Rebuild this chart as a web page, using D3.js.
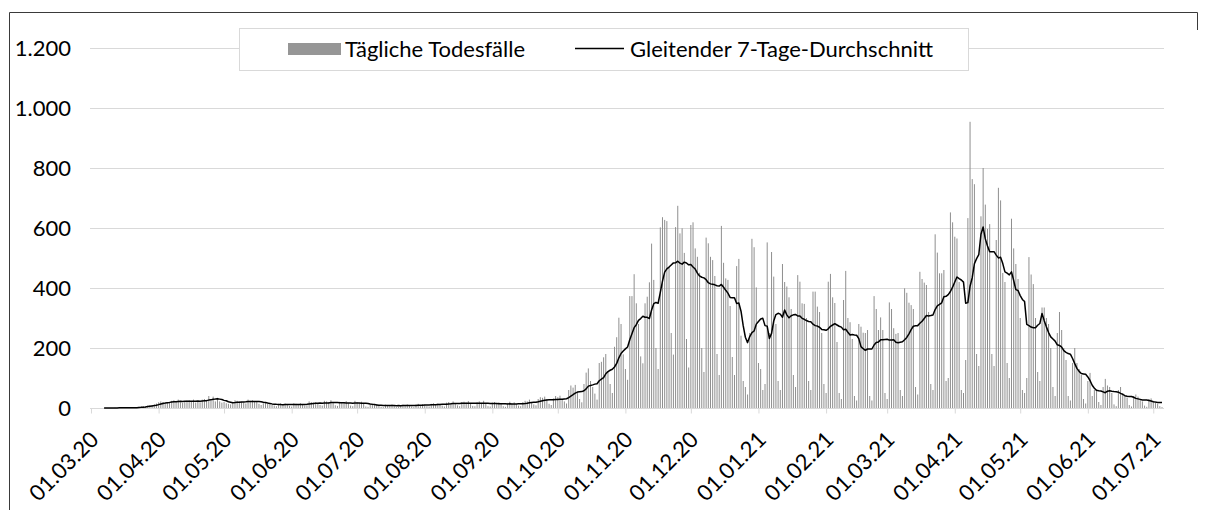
<!DOCTYPE html>
<html>
<head>
<meta charset="utf-8">
<script src="https://cdn.jsdelivr.net/npm/d3@7/dist/d3.min.js"></script>
<style>
  html, body { margin: 0; padding: 0; background: #fff; }
  svg { display: block; font-family: Lato, "Open Sans", sans-serif; }
</style>
</head>
<body>
<svg id="chart" width="1205" height="510"></svg>
<script>
// ---------- DATA ----------
const startDate = "2020-03-01";
// Daily deaths, one value per day starting 01.03.2020 (weeks Sun..Sat)
const dailyDeaths = [
  0,0,0,0,0,0,0,
  0,0,0,0,1,1,1,
  0,0,2,1,1,0,1,
  3,4,5,6,6,8,9,
  10,12,15,19,22,20,17,
  20,18,24,26,21,28,19,
  17,20,25,26,22,28,18,
  22,19,28,30,27,40,24,
  38,22,34,22,18,20,16,
  14,12,20,26,24,22,20,
  18,15,28,24,26,22,20,
  14,10,16,20,14,12,10,
  8,6,14,16,12,15,11,
  7,5,16,14,13,16,12,
  8,9,22,20,18,19,16,
  10,8,24,22,20,26,18,
  9,7,21,19,20,23,16,
  8,6,24,20,17,21,16,
  5,4,12,10,11,13,8,
  4,3,11,9,10,12,7,
  3,4,10,11,9,12,8,
  5,3,12,14,10,13,11,
  6,5,14,16,13,15,14,
  8,5,18,20,17,22,15,
  9,6,20,21,18,23,15,
  7,6,19,22,17,24,14,
  6,5,18,20,16,19,14,
  6,4,17,21,15,19,13,
  8,6,20,24,22,28,20,
  12,9,30,36,34,38,30,
  14,10,32,40,36,41,30,
  22,15,60,75,68,77,54,
  30,19,80,118,132,90,70,
  48,28,150,154,169,180,120,
  80,50,204,236,301,280,179,
  130,94,373,373,446,349,280,
  172,149,349,371,419,548,427,
  200,130,602,636,627,623,470,
  250,178,603,674,582,599,517,
  230,135,610,619,532,504,451,
  200,120,568,549,504,493,440,
  180,110,607,484,432,427,340,
  170,110,473,497,241,90,70,
  45,250,564,536,402,150,130,
  60,80,552,250,520,438,280,
  90,60,480,420,405,369,330,
  110,70,443,421,349,347,300,
  90,60,388,388,338,320,250,
  80,50,421,447,369,350,220,
  50,30,360,457,300,286,230,
  40,25,280,271,251,250,260,
  40,25,373,330,260,302,260,
  50,30,352,330,266,247,250,
  60,40,399,384,351,343,330,
  70,45,454,430,418,410,320,
  80,60,579,518,449,449,460,
  90,100,652,619,571,565,420,
  60,50,160,633,954,763,746,
  180,140,639,800,678,597,613,
  180,140,560,734,692,450,420,
  150,100,631,532,480,430,300,
  60,50,100,503,445,413,300,
  120,90,335,335,300,280,200,
  70,40,250,320,260,200,160,
  40,25,150,200,150,130,110,
  30,15,90,117,40,60,60,
  20,10,70,97,75,70,50,
  12,6,60,70,50,40,35,
  10,5,40,45,38,28,22,
  8,4,30,32,24,18,14,
  6,3
];
const xTickLabels = ["01.03.20","01.04.20","01.05.20","01.06.20","01.07.20","01.08.20",
  "01.09.20","01.10.20","01.11.20","01.12.20","01.01.21","01.02.21","01.03.21",
  "01.04.21","01.05.21","01.06.21","01.07.21"];
const yTicks = [0, 200, 400, 600, 800, 1000, 1200];
const seriesNames = ["Tägliche Todesfälle", "Gleitender 7-Tage-Durchschnitt"];
const windowDays = 7;

// ---------- BUILD ----------
const parseISO = d3.timeParse("%Y-%m-%d");
const parseLabel = d3.timeParse("%d.%m.%y");
const t0 = parseISO(startDate);
const days = dailyDeaths.map((v, i) => ({ date: d3.timeDay.offset(t0, i), value: v }));
const avg = [];
for (let i = windowDays - 1; i < days.length; i++) {
  avg.push({ date: days[i].date, value: d3.mean(dailyDeaths.slice(i - windowDays + 1, i + 1)) });
}

const svg = d3.select("#chart");
const W = 1205, H = 510;
const plotL = 90, plotR = 1164;
const FS = 22;

const x = d3.scaleTime()
  .domain([t0, days[days.length - 1].date])
  .range([91, 1162]);
const y = d3.scaleLinear().domain([0, 1200]).range([408, 48]);

const de = d3.formatLocale({ decimal: ",", thousands: ".", grouping: [3], currency: ["", "€"] });
const fmt = de.format(",");

svg.append("rect").attr("width", W).attr("height", H).attr("fill", "#fff");

// frame (left, top, short right)
svg.append("path")
  .attr("d", "M9.5,520V12.5H1197.5V30")
  .attr("fill", "none").attr("stroke", "#3a3a3a").attr("stroke-width", 1);

// gridlines
svg.append("g").selectAll("line").data(yTicks.filter(d => d > 0)).join("line")
  .attr("x1", plotL).attr("x2", plotR)
  .attr("y1", d => Math.round(y(d)) + 0.5).attr("y2", d => Math.round(y(d)) + 0.5)
  .attr("stroke", "#d9d9d9").attr("stroke-width", 1);

// y labels
svg.append("g").selectAll("text").data(yTicks).join("text")
  .attr("x", 71).attr("y", d => y(d)).attr("dy", "0.35em")
  .attr("text-anchor", "end").attr("font-size", FS).attr("fill", "#000")
  .text(d => fmt(d));

// bars
svg.append("g").selectAll("rect").data(days).join("rect")
  .attr("x", d => x(d.date) - 0.5)
  .attr("width", 1)
  .attr("y", d => y(d.value))
  .attr("height", d => y(0) - y(d.value))
  .attr("fill", "#8f8f8f");

// x axis
const tickDates = xTickLabels.map(s => parseLabel(s));
const xAxis = d3.axisBottom(x).tickValues(tickDates).tickSize(5).tickSizeOuter(0)
  .tickFormat((d, i) => xTickLabels[i]);
const gx = svg.append("g").attr("transform", "translate(0,408.5)").call(xAxis);
gx.select(".domain").attr("d", `M${plotL},0H${plotR}`).attr("stroke", "#d9d9d9");
gx.selectAll(".tick line").attr("stroke", "#d9d9d9");
gx.selectAll(".tick text")
  .attr("font-family", "Lato, sans-serif")
  .attr("font-size", FS).attr("fill", "#000")
  .attr("text-anchor", "end")
  .attr("transform", "translate(3,27) rotate(-45)")
  .attr("dy", "0.35em").attr("y", 0).attr("x", 0);

// moving average line
svg.append("path").datum(avg)
  .attr("d", d3.line().x(d => x(d.date)).y(d => y(d.value)))
  .attr("fill", "none").attr("stroke", "#000").attr("stroke-width", 1.5)
  .attr("stroke-linejoin", "round");

// legend
const lg = svg.append("g");
lg.append("rect").attr("x", 239.5).attr("y", 28.5).attr("width", 729).attr("height", 42)
  .attr("fill", "#fff").attr("stroke", "#d9d9d9");
lg.append("rect").attr("x", 288).attr("y", 43).attr("width", 53).attr("height", 12).attr("fill", "#969696");
lg.append("text").attr("x", 345).attr("y", 49).attr("dy", "0.35em").attr("font-size", FS).attr("fill", "#000").text(seriesNames[0]);
lg.append("line").attr("x1", 575).attr("x2", 624).attr("y1", 48.5).attr("y2", 48.5).attr("stroke", "#000").attr("stroke-width", 1.5);
lg.append("text").attr("x", 630).attr("y", 49).attr("dy", "0.35em").attr("font-size", FS).attr("fill", "#000").text(seriesNames[1]);
</script>
</body>
</html>
